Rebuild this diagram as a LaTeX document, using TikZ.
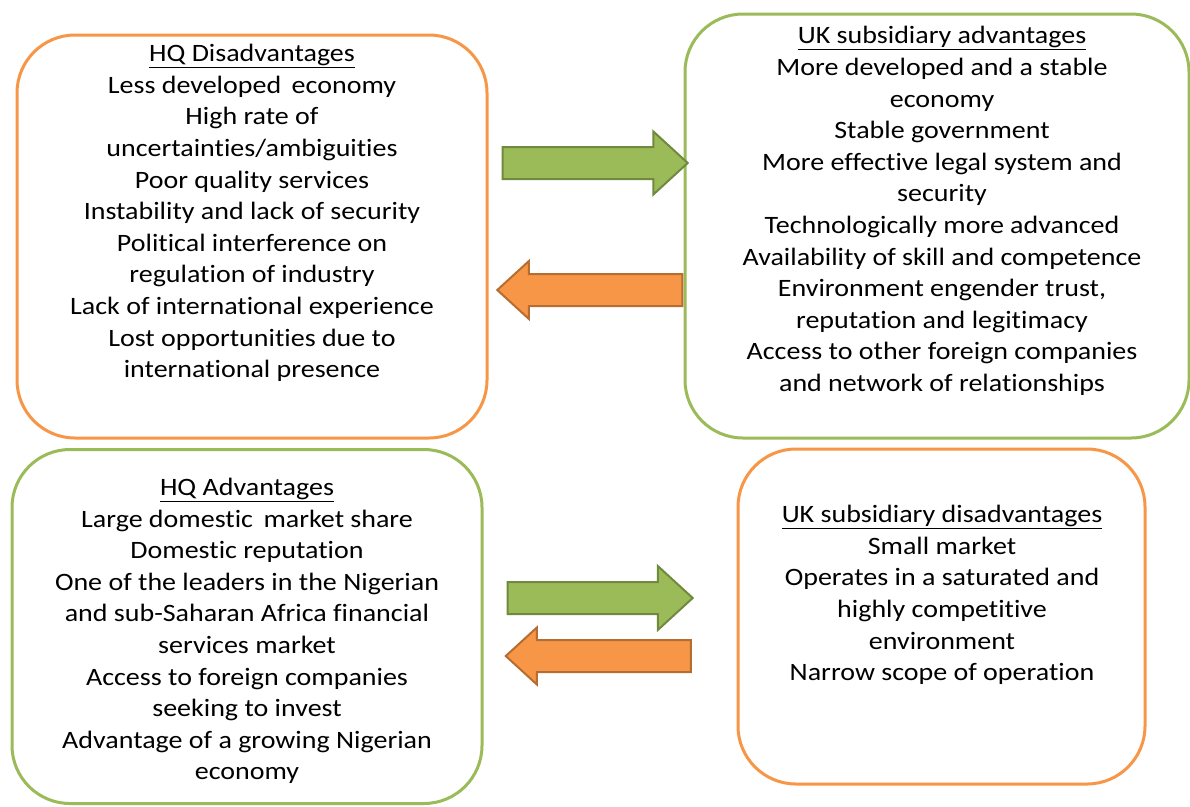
\documentclass[tikz,border=0pt]{standalone}
\usepackage{fontspec}
\setmainfont{Carlito}[FakeStretch=1.12, Ligatures=NoCommon]
\usetikzlibrary{shapes.arrows}
\definecolor{boxorange}{HTML}{F79646}
\definecolor{boxgreen}{HTML}{9BBB59}
\definecolor{edgeorange}{HTML}{B66D31}
\definecolor{edgegreen}{HTML}{71893F}
\tikzset{
  panel/.style={draw=#1, line width=3pt, rounded corners=58pt, fill=white},
  listtext/.style={align=center, font=\fontsize{25}{31.6}\selectfont, inner sep=0pt},
  blockarrow/.style={single arrow, draw=edge#1, fill=box#1, line width=2pt,
    inner xsep=0pt, inner ysep=15pt, minimum height=185pt, single arrow tip angle=85}
}
\begin{document}
\begin{tikzpicture}[x=1pt, y=-1pt]
				\useasboundingbox (0,0) rectangle (1190,806);
				% Boxes:
				\node[panel=boxorange, minimum width=470pt, minimum height=403pt] (hqdis) at (252,236.5){};
				\node[panel=boxgreen, minimum width=504pt, minimum height=424pt] (ukadv) at (937,226){};
				\node[panel=boxgreen, minimum width=470pt, minimum height=354pt] (hqadv) at (247,626.5){};
				\node[panel=boxorange, minimum width=407pt, minimum height=335pt] (ukdis) at (941.5,616.5){};
				% Texts:
				\node[listtext] (hqdistext) at (252,213){\underline{HQ Disadvantages}\\
					Less developed\, economy\\
					High rate of\\
					uncertainties/ambiguities\\
					Poor quality services\\
					Instability and lack of security\\
					Political interference on\\
					regulation of industry\\
					Lack of international experience\\
					Lost opportunities due to\\
					international presence};
				\node[listtext] (ukadvtext) at (942,211){\underline{UK subsidiary advantages}\\
					More developed and a stable\\
					economy\\
					Stable government\\
					More effective legal system and\\
					security\\
					Technologically more advanced\\
					Availability of skill and competence\\
					Environment engender trust,\\
					reputation and legitimacy\\
					Access to other foreign companies\\
					and network of relationships};
				\node[listtext] (hqadvtext) at (247,631){\underline{HQ Advantages}\\
					Large domestic\, market share\\
					Domestic reputation\\
					One of the leaders in the Nigerian\\
					and sub-Saharan Africa financial\\
					services market\\
					Access to foreign companies\\
					seeking to invest\\
					Advantage of a growing Nigerian\\
					economy};
				\node[listtext] (ukdistext) at (942,595){\underline{UK subsidiary disadvantages}\\
					Small market\\
					Operates in a saturated and\\
					highly competitive\\
					environment\\
					Narrow scope of operation};
				% Arrows:
				\node[blockarrow=green, single arrow head extend=15.5pt] (toukadv) at (586.5,163){};
				\node[blockarrow=orange, single arrow head extend=13pt, shape border rotate=180] (tohqdis) at (598.5,290){};
				\node[blockarrow=green, single arrow head extend=16pt] (toukdis) at (591.5,598){};
				\node[blockarrow=orange, single arrow head extend=12.5pt, shape border rotate=180] (tohqadv) at (607,656){};
			\end{tikzpicture}
\end{document}
